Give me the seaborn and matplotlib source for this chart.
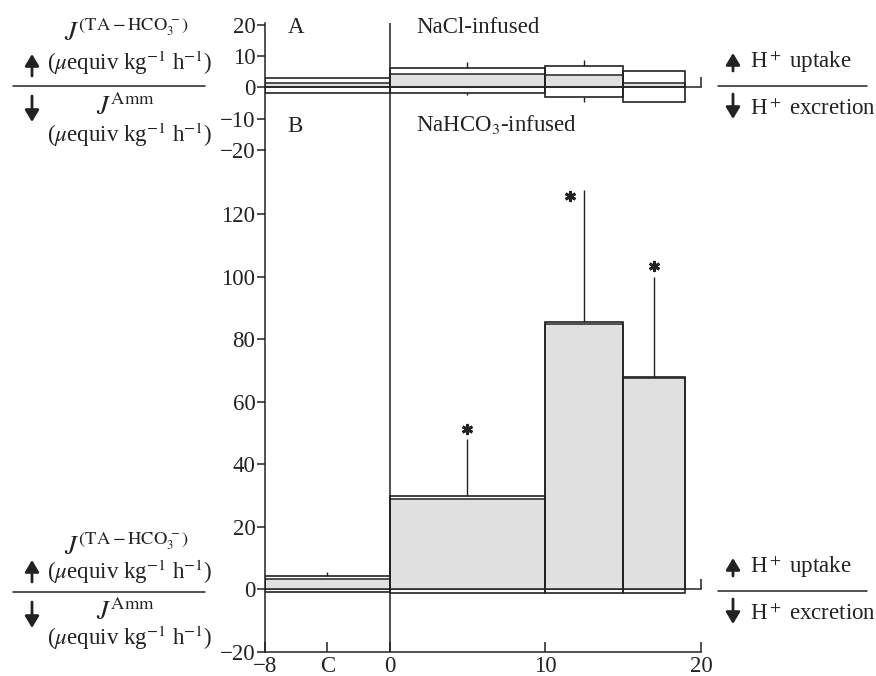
import matplotlib
matplotlib.use('Agg')
import matplotlib.pyplot as plt
from matplotlib.lines import Line2D
import seaborn as sns
import pandas as pd

# ---------------- data ----------------
period_start = [-8, 0, 10, 15]
period_end = [0, 10, 15, 19]
x_ticks = [-8, -4, 0, 10, 20]
x_ticklabels = ['\u22128', 'C', '0', '10', '20']

# Panel A: NaCl-infused
nacl_ta = [3.0, 6.2, 7.0, 5.3]          # J(TA-HCO3-)
nacl_amm = [-1.7, -1.7, -3.2, -4.5]     # J(Amm)
nacl_net = [1.3, 4.2, 4.0, 1.5]         # net H+ flux
nacl_ta_se = [0.0, 2.0, 1.7, 0.0]
nacl_amm_se = [0.0, 0.7, 1.4, 0.0]
nacl_sig = [False, False, False, False]

# Panel B: NaHCO3-infused
bic_ta = [4.2, 30.0, 85.7, 68.0]
bic_amm = [-0.8, -1.0, -1.0, -1.0]
bic_net = [3.5, 29.0, 85.0, 67.5]
bic_ta_se = [1.5, 18.0, 42.0, 32.0]
bic_amm_se = [0.0, 0.0, 0.0, 0.0]
bic_sig = [False, True, True, True]

ya_ticks = [-20, -10, 0, 10, 20]
yb_ticks = [-20, 0, 20, 40, 60, 80, 100, 120]

df_a = pd.DataFrame(dict(start=period_start, end=period_end, ta=nacl_ta, amm=nacl_amm,
                         net=nacl_net, ta_se=nacl_ta_se, amm_se=nacl_amm_se, sig=nacl_sig))
df_b = pd.DataFrame(dict(start=period_start, end=period_end, ta=bic_ta, amm=bic_amm,
                         net=bic_net, ta_se=bic_ta_se, amm_se=bic_amm_se, sig=bic_sig))

# ---------------- style ----------------
sns.set_theme(style='ticks')
INK = '#222222'
FILL = '#e0e0e0'
plt.rcParams['font.family'] = ['Liberation Serif', 'DejaVu Serif']
plt.rcParams['mathtext.fontset'] = 'stix'
plt.rcParams['text.color'] = INK
plt.rcParams['axes.edgecolor'] = INK
plt.rcParams['xtick.color'] = INK
plt.rcParams['ytick.color'] = INK
TICK_FS = 16.5
LAB_FS = 16.5

W, H = 876, 676
fig = plt.figure(figsize=(W / 100, H / 100), dpi=100)
fig.patch.set_facecolor('white')


def fx(px):
    return px / W


def fy(py):
    return 1 - py / H


XL, XR = 265, 701
ax_a = fig.add_axes([fx(XL), fy(150), (XR - XL) / W, (150 - 23) / H])
ax_b = fig.add_axes([fx(XL), fy(652), (XR - XL) / W, (652 - 150) / H])
for ax in (ax_a, ax_b):
    ax.set_facecolor('none')
    ax.set_xlim(-8, 20)
ax_a.set_ylim(-20, 20.6)
ax_b.set_ylim(-20, 140.6)


def draw_panel(ax, df, star_dx, star_dy):
    w = df['end'] - df['start']
    mid = (df['start'] + df['end']) / 2
    ax.bar(df['start'], df['net'], bottom=0, width=w, align='edge', color=FILL,
           edgecolor=INK, linewidth=1.1, zorder=2)
    ax.bar(df['start'], df['ta'] - df['amm'], bottom=df['amm'], width=w, align='edge',
           fill=False, edgecolor=INK, linewidth=1.2, zorder=3)
    up = df['ta_se'] > 0
    ax.vlines(mid[up], df['ta'][up], (df['ta'] + df['ta_se'])[up], color=INK, lw=1.0, zorder=3)
    dn = df['amm_se'] > 0
    ax.vlines(mid[dn], (df['amm'] - df['amm_se'])[dn], df['amm'][dn], color=INK, lw=1.0, zorder=3)
    for i, row in df.iterrows():
        if row['sig']:
            ax.plot(mid[i] + star_dx[i], row['ta'] + row['ta_se'] + star_dy[i],
                    marker=(6, 2, 0), ms=8, mew=2.0, color=INK, ls='none', zorder=4)
    ax.axvline(0, color=INK, lw=1.1, zorder=3)


draw_panel(ax_a, df_a, [0, 0, 0, 0], [0, 0, 0, 0])
draw_panel(ax_b, df_b, [0, 0, -0.9, 0], [3.5, 3.5, -1.7, 3.5])

# Panel A axes
sns.despine(ax=ax_a, top=True, right=True)
ax_a.spines['bottom'].set_position(('data', 0))
ax_a.spines['bottom'].set_linewidth(1.1)
ax_a.spines['left'].set_linewidth(1.1)
ax_a.set_xticks([20])
ax_a.tick_params(axis='x', direction='in', length=7, width=1.1, labelbottom=False)
ax_a.set_yticks(ya_ticks)
ax_a.set_yticklabels([str(v).replace('-', '\u2212') for v in ya_ticks], fontsize=TICK_FS)
ax_a.tick_params(axis='y', direction='out', length=6, width=1.1, pad=1)

# Panel B axes
sns.despine(ax=ax_b, top=True, right=True)
ax_b.spines['bottom'].set_linewidth(1.1)
ax_b.spines['left'].set_linewidth(1.1)
ax_b.set_xticks(x_ticks)
ax_b.set_xticklabels(x_ticklabels, fontsize=TICK_FS)
ax_b.tick_params(axis='x', direction='in', length=7, width=1.1, pad=3)
ax_b.set_yticks(yb_ticks)
ax_b.set_yticklabels([str(v).replace('-', '\u2212') for v in yb_ticks], fontsize=TICK_FS)
ax_b.tick_params(axis='y', direction='out', length=6, width=1.1, pad=1)
ylo, yhi = ax_b.get_ylim()
zero = ax_b.secondary_xaxis((0 - ylo) / (yhi - ylo))
zero.set_xticks([20])
zero.tick_params(direction='in', length=7, width=1.1, labelbottom=False)
zero.spines['bottom'].set_linewidth(1.1)
zero.spines['bottom'].set_color(INK)

# Panel labels
ax_a.text(-6.55, 19.3, 'A', fontsize=LAB_FS, va='center', ha='left')
ax_a.text(1.7, 19.3, 'NaCl-infused', fontsize=LAB_FS, va='center', ha='left')
ax_a.text(-6.55, -12.5, 'B', fontsize=LAB_FS, va='center', ha='left')
ax_a.text(1.7, -12.0, 'NaHCO$_3$-infused', fontsize=LAB_FS, va='center', ha='left')

# ---------------- side annotations ----------------
J_TA = r'$J^{(\mathrm{TA}-\mathrm{HCO}_3^{\,-})}$'
J_AMM = r'$J^{\mathrm{Amm}}$'
UNITS = r'($\mu$equiv kg$^{-1}$ h$^{-1}$)'
J_FS = 19


def arrow(xp, y0, y1):
    fig.add_artist(matplotlib.patches.FancyArrowPatch(
        (fx(xp), fy(y0)), (fx(xp), fy(y1)), transform=fig.transFigure,
        arrowstyle='-|>,head_length=5,head_width=3', mutation_scale=1.4,
        lw=2.0, color=INK, shrinkA=0, shrinkB=0))


def hline(x0, x1, yp):
    fig.add_artist(Line2D([fx(x0), fx(x1)], [fy(yp), fy(yp)], transform=fig.transFigure,
                          color=INK, lw=1.1))


def left_block(yline, d_j, d_u, d_a, d_u2):
    fig.text(fx(127), fy(yline - d_j), J_TA, fontsize=J_FS, ha='center', va='center')
    fig.text(fx(130), fy(yline - d_u), UNITS, fontsize=LAB_FS, ha='center', va='center')
    hline(13, 205, yline)
    fig.text(fx(125), fy(yline + d_a), J_AMM, fontsize=J_FS, ha='center', va='center')
    fig.text(fx(130), fy(yline + d_u2), UNITS, fontsize=LAB_FS, ha='center', va='center')
    arrow(32, yline - 10, yline - 32)
    arrow(32, yline + 10, yline + 36)


def right_block(yline):
    fig.text(fx(750), fy(yline - 24), r'H$^+$ uptake', fontsize=LAB_FS, ha='left', va='center')
    hline(718, 867, yline)
    fig.text(fx(750), fy(yline + 23), r'H$^+$ excretion', fontsize=LAB_FS, ha='left', va='center')
    arrow(733, yline - 15, yline - 33)
    arrow(733, yline + 8, yline + 33)


left_block(86, 53, 23, 21, 49)
left_block(592, 45, 20, 20, 46)
right_block(86)
right_block(591)

fig.savefig('out.png', dpi=100, facecolor='white')
